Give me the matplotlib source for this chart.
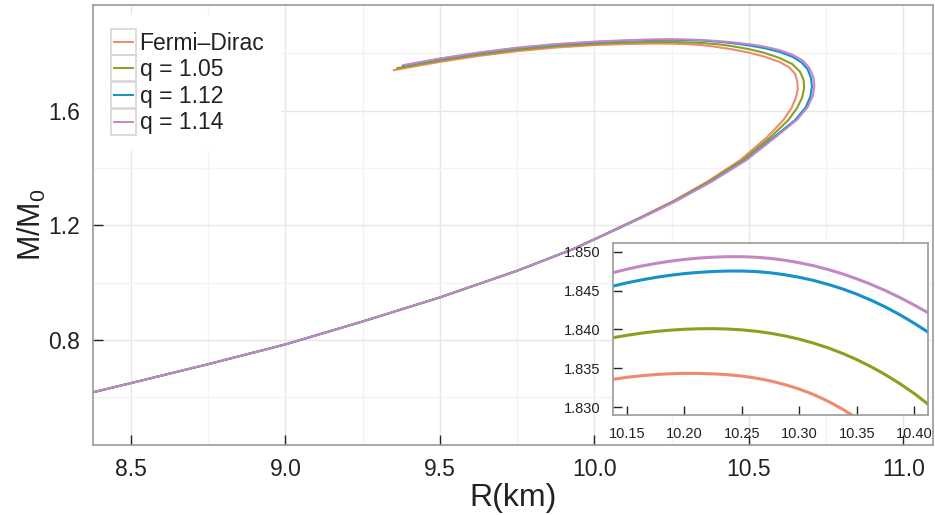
import numpy as np
import matplotlib
matplotlib.use('Agg')
import matplotlib.pyplot as plt
from matplotlib.legend_handler import HandlerBase
from matplotlib.patches import Rectangle
from matplotlib.lines import Line2D
from matplotlib.ticker import MultipleLocator, FormatStrFormatter

plt.rcParams['font.family'] = ['Liberation Sans', 'DejaVu Sans']
plt.rcParams['mathtext.fontset'] = 'custom'
plt.rcParams['mathtext.rm'] = 'Liberation Sans'

# ---- data: R (km), M/M0 ----
labels = ['Fermi–Dirac', 'q = 1.05', 'q = 1.12', 'q = 1.14']
colors = ['#ee8a6d', '#8d9f1f', '#1592c8', '#c487c4']

# lower branch, common to all four curves
r_low = [8.37, 8.50, 8.75, 9.00, 9.25, 9.50, 9.75, 9.93]
m_low = [0.616, 0.650, 0.716, 0.785, 0.865, 0.949, 1.042, 1.117]

# turning part (max radius), up to R = 10.45 on the upper side
r_turn_fd = [10.045, 10.148, 10.256, 10.364, 10.472, 10.558, 10.612, 10.638, 10.652, 10.658, 10.657, 10.650, 10.630, 10.600, 10.550, 10.500, 10.450]
m_turn_fd = [1.175, 1.228, 1.286, 1.352, 1.428, 1.507, 1.568, 1.610, 1.645, 1.675, 1.700, 1.728, 1.752, 1.770, 1.789, 1.803, 1.8135]
r_turn_105 = [10.047, 10.152, 10.262, 10.370, 10.480, 10.569, 10.628, 10.655, 10.672, 10.679, 10.677, 10.665, 10.640, 10.600, 10.550, 10.500, 10.450]
m_turn_105 = [1.175, 1.228, 1.286, 1.352, 1.428, 1.507, 1.568, 1.608, 1.645, 1.680, 1.708, 1.737, 1.763, 1.784, 1.802, 1.815, 1.8245]
r_turn_112 = [10.048, 10.154, 10.264, 10.376, 10.489, 10.580, 10.650, 10.684, 10.699, 10.704, 10.701, 10.690, 10.670, 10.640, 10.600, 10.550, 10.500, 10.450]
m_turn_112 = [1.175, 1.228, 1.286, 1.352, 1.428, 1.507, 1.568, 1.612, 1.650, 1.685, 1.715, 1.745, 1.769, 1.789, 1.805, 1.8186, 1.828, 1.8353]
r_turn_114 = [10.049, 10.155, 10.266, 10.378, 10.492, 10.585, 10.655, 10.690, 10.707, 10.712, 10.708, 10.695, 10.675, 10.640, 10.600, 10.550, 10.500, 10.450]
m_turn_114 = [1.175, 1.228, 1.286, 1.352, 1.428, 1.507, 1.568, 1.612, 1.652, 1.688, 1.720, 1.750, 1.775, 1.796, 1.8115, 1.824, 1.8325, 1.8385]

# maximum-mass region (the zoomed inset), R decreasing
r_top = [10.4117, 10.4000, 10.3875, 10.3750, 10.3625, 10.3500, 10.3375, 10.3250,
         10.3125, 10.3000, 10.2875, 10.2750, 10.2625, 10.2500, 10.2375, 10.2250,
         10.2125, 10.2000, 10.1875, 10.1750, 10.1625, 10.1500, 10.1378]
m_top_fd = [1.82000, 1.82198, 1.82393, 1.82567, 1.82721, 1.82856, 1.82973, 1.83074,
            1.83160, 1.83231, 1.83289, 1.83336, 1.83372, 1.83399, 1.83417, 1.83428,
            1.83433, 1.83434, 1.83429, 1.83419, 1.83403, 1.83383, 1.83357]
m_top_105 = [1.83040, 1.83174, 1.83301, 1.83416, 1.83519, 1.83611, 1.83692, 1.83763,
             1.83823, 1.83875, 1.83917, 1.83951, 1.83977, 1.83995, 1.84006, 1.84011,
             1.84009, 1.84003, 1.83991, 1.83975, 1.83953, 1.83925, 1.83894]
m_top_112 = [1.83968, 1.84080, 1.84190, 1.84289, 1.84377, 1.84456, 1.84524, 1.84582,
             1.84632, 1.84673, 1.84706, 1.84731, 1.84747, 1.84754, 1.84754, 1.84748,
             1.84737, 1.84721, 1.84699, 1.84672, 1.84639, 1.84602, 1.84560]
m_top_114 = [1.84218, 1.84315, 1.84412, 1.84501, 1.84581, 1.84653, 1.84718, 1.84774,
             1.84822, 1.84861, 1.84893, 1.84917, 1.84932, 1.84939, 1.84939, 1.84933,
             1.84921, 1.84904, 1.84881, 1.84852, 1.84818, 1.84778, 1.84733]

# upper branch going back to smaller radius
r_left = [10.10, 10.05, 10.00, 9.875, 9.75, 9.625, 9.50, 9.42]
m_left_fd = [1.8327, 1.8311, 1.8291, 1.8206, 1.8080, 1.7913, 1.7706, 1.7552]
m_left_105 = [1.8378, 1.8360, 1.8337, 1.8252, 1.8127, 1.7960, 1.7754, 1.7600]
m_left_112 = [1.8442, 1.8421, 1.8395, 1.8312, 1.8187, 1.8018, 1.7810, 1.7655]
m_left_114 = [1.8458, 1.8437, 1.8411, 1.8327, 1.8201, 1.8031, 1.7822, 1.7667]

r_end = [9.351, 9.362, 9.380, 9.385]
m_end = [1.7415, 1.7485, 1.7575, 1.7596]

r_turn = [r_turn_fd, r_turn_105, r_turn_112, r_turn_114]
m_turn = [m_turn_fd, m_turn_105, m_turn_112, m_turn_114]
m_top = [m_top_fd, m_top_105, m_top_112, m_top_114]
m_left = [m_left_fd, m_left_105, m_left_112, m_left_114]

curves = []
for i in range(4):
    R = np.array(r_low + r_turn[i] + r_top + r_left + [r_end[i]])
    M = np.array(m_low + m_turn[i] + m_top[i] + m_left[i] + [m_end[i]])
    curves.append((R, M))


# legend swatch drawn Mathematica-style: a line inside a small framed box
class BoxedLine(HandlerBase):
    def create_artists(self, legend, orig_handle, xdescent, ydescent,
                       width, height, fontsize, trans):
        yc = -ydescent + height / 2
        bh = 1.13 * fontsize
        box = Rectangle((-xdescent, yc - bh / 2), width, bh,
                        fill=False, edgecolor='#d6d6d6', lw=1.2, transform=trans)
        ln = Line2D([-xdescent + 0.14 * width, -xdescent + 0.86 * width],
                    [yc, yc], color=orig_handle.get_color(),
                    lw=1.4, transform=trans)
        return [box, ln]


fig = plt.figure(figsize=(9.35, 5.15), dpi=100)
ax = fig.add_axes([0.0991, 0.1359, 0.8988, 0.8544])

handles = []
for (R, M), c, lab in zip(curves, colors, labels):
    h, = ax.plot(R, M, color=c, lw=1.5, label=lab)
    handles.append(h)

ax.set_xlim(8.376, 11.096)
ax.set_ylim(0.434, 1.969)
ax.set_xticks([8.5, 9.0, 9.5, 10.0, 10.5, 11.0])
ax.set_yticks([0.8, 1.2, 1.6])
ax.xaxis.set_major_formatter(FormatStrFormatter('%.1f'))
ax.yaxis.set_major_formatter(FormatStrFormatter('%.1f'))
ax.xaxis.set_minor_locator(MultipleLocator(0.25))
ax.yaxis.set_minor_locator(MultipleLocator(0.2))
ax.grid(which='major', color='#e6e6e6', lw=1.0)
ax.grid(which='minor', color='#f3f3f3', lw=1.0)
ax.set_axisbelow(True)
ax.tick_params(which='major', direction='in', length=7, width=1.0, color='#222222',
               labelsize=16.5, labelcolor='#222222', pad=9)
ax.tick_params(which='minor', length=0)
for s in ax.spines.values():
    s.set_color('#9a9a9a')
    s.set_linewidth(1.2)

ax.set_xlabel('R(km)', fontsize=23, color='#222222', labelpad=2)
ax.set_ylabel(r'M/M$_\mathregular{0}$', fontsize=22, color='#222222', labelpad=0)

leg = ax.legend(handles=handles, labels=labels, handler_map={Line2D: BoxedLine()},
                loc='upper left', bbox_to_anchor=(94 / 935, 1 - 15 / 515),
                bbox_transform=fig.transFigure, fontsize=16.5, frameon=True,
                fancybox=False, framealpha=1.0, borderpad=0.72, labelspacing=0.16,
                handlelength=1.13, handleheight=0.95, handletextpad=0.14,
                borderaxespad=0)
leg.get_frame().set_edgecolor('none')
leg.get_frame().set_facecolor('white')
for t in leg.get_texts():
    t.set_color('#222222')

# inset around the maximum mass
axin = fig.add_axes([0.6556, 0.1942, 0.3366, 0.3340])
for (R, M), c in zip(curves, colors):
    axin.plot(R, M, color=c, lw=2.2)
axin.set_xlim(10.1378, 10.4117)
axin.set_ylim(1.82897, 1.85116)
axin.set_xticks([10.15, 10.20, 10.25, 10.30, 10.35, 10.40])
axin.set_yticks([1.830, 1.835, 1.840, 1.845, 1.850])
axin.xaxis.set_major_formatter(FormatStrFormatter('%.2f'))
axin.yaxis.set_major_formatter(FormatStrFormatter('%.3f'))
axin.tick_params(direction='in', length=6.5, width=1.0, color='#222222',
                 labelsize=10.5, labelcolor='#222222', pad=9)
for s in axin.spines.values():
    s.set_color('#9a9a9a')
    s.set_linewidth(1.2)

fig.savefig('out.png', dpi=100)
